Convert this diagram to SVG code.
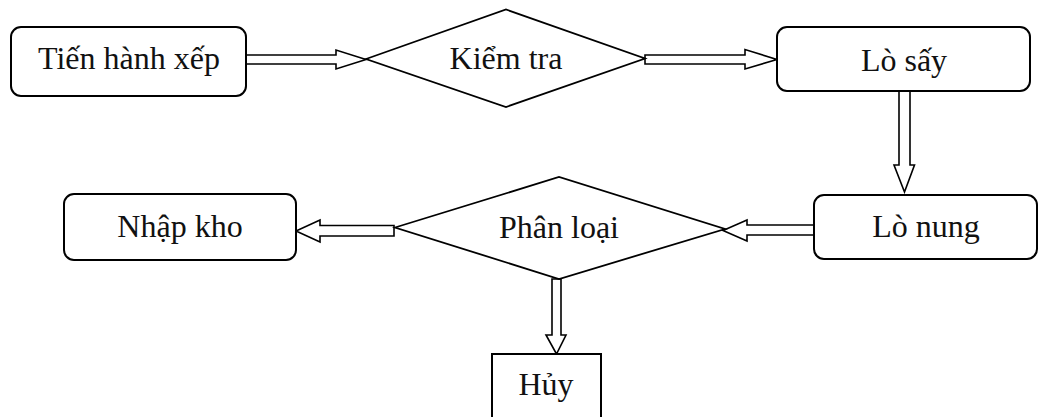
<svg xmlns="http://www.w3.org/2000/svg" width="1038" height="417" viewBox="0 0 1038 417">
  <style>
    .box { fill: #ffffff; stroke: #000000; stroke-width: 2; }
    .dia { fill: none; stroke: #000000; stroke-width: 1.8; }
    .arrow { fill: #ffffff; stroke: #000000; stroke-width: 1.6; stroke-linejoin: miter; }
    .lbl { font-family: "Liberation Serif", "Times New Roman", serif; font-size: 32px; fill: #111111; text-anchor: middle; }
  </style>
  <rect width="1038" height="417" fill="#ffffff"/>

  <!-- process flow connectors (block arrows) -->
  <g id="connectors">
    <polygon class="arrow" points="246,55 336,55 336,50 366,59.5 336,69 336,64 246,64"/>
    <polygon class="arrow" points="645,55 745,55 745,49.5 777,59.5 745,69 745,64 645,64"/>
    <polygon class="arrow" points="899,91 910,91 910,165 914.5,165 904.5,192 894,165 899,165"/>
    <polygon class="arrow" points="814,225 747,225 747,220 723,230.5 747,241 747,235 814,235"/>
    <polygon class="arrow" points="394,225.5 320,225.5 320,220 296,231 320,242 320,236 394,236"/>
    <polygon class="arrow" points="552,279 561,279 561,335 566,335 556.5,354 546,335 552,335"/>
  </g>

  <g id="node-tien-hanh-xep">
    <rect class="box" x="11" y="27" width="235" height="69" rx="10" ry="10"/>
    <text class="lbl" x="129" y="69">Tiến hành xếp</text>
  </g>

  <g id="node-kiem-tra">
    <polygon class="dia" points="366,59 506,9.5 645,58.5 506,107"/>
    <text class="lbl" x="506" y="69">Kiểm tra</text>
  </g>

  <g id="node-lo-say">
    <rect class="box" x="777" y="27" width="253" height="64" rx="10" ry="10"/>
    <text class="lbl" x="904" y="71">Lò sấy</text>
  </g>

  <g id="node-lo-nung">
    <rect class="box" x="814" y="195" width="223" height="64" rx="10" ry="10"/>
    <text class="lbl" x="926" y="237">Lò nung</text>
  </g>

  <g id="node-phan-loai">
    <polygon class="dia" points="395,227.5 559,177 725,229 559,279"/>
    <text class="lbl" x="559" y="238">Phân loại</text>
  </g>

  <g id="node-nhap-kho">
    <rect class="box" x="64" y="194" width="232" height="66" rx="10" ry="10"/>
    <text class="lbl" x="180" y="237">Nhập kho</text>
  </g>

  <g id="node-huy">
    <rect class="box" x="492" y="354" width="109" height="80"/>
    <text class="lbl" x="546" y="395">Hủy</text>
  </g>
</svg>
